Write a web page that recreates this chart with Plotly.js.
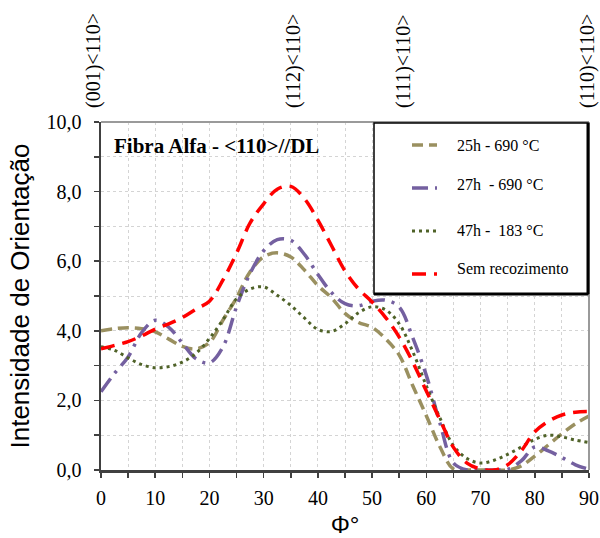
<!DOCTYPE html>
<html>
<head>
<meta charset="utf-8">
<script src="https://cdn.plot.ly/plotly-3.0.1.min.js"></script>
<style>html,body{margin:0;padding:0;background:#fff;}#chart{width:600px;height:538px;}</style>
</head>
<body>
<div id="chart"></div>
<script>
// Φ angle (degrees)
const phi = [0,2.5,5,7.5,10,12.5,15,17.5,20,22.5,25,27.5,30,32.5,35,37.5,40,42.5,45,47.5,50,52.5,55,57.5,60,62.5,65,67.5,70,72.5,75,77.5,80,82.5,85,87.5,90];

const seriesNames = ["25h - 690 °C", "27h  - 690 °C", "47h -  183 °C", "Sem recozimento"];

const s25h690 = [4.00,4.06,4.09,4.06,3.97,3.76,3.55,3.48,3.66,4.31,4.95,5.70,6.13,6.24,6.12,5.75,5.30,4.95,4.50,4.24,4.10,3.77,3.30,2.42,1.56,0.67,0.03,0,0,0,0,0.12,0.40,0.72,1.04,1.33,1.55];
const s27h690 = [2.25,2.78,3.25,3.95,4.30,4.10,3.65,3.20,3.08,3.54,4.69,5.65,6.30,6.62,6.60,6.20,5.62,5.10,4.78,4.72,4.85,4.88,4.68,3.80,2.72,1.35,0.20,0,0,0,0.02,0.26,0.66,0.55,0.36,0.15,0.02];
const s47h183 = [3.54,3.44,3.22,3.03,2.94,2.97,3.10,3.35,3.78,4.32,4.92,5.20,5.26,5.02,4.73,4.37,4.04,3.98,4.20,4.52,4.69,4.60,4.20,3.40,2.42,1.50,0.70,0.33,0.20,0.28,0.45,0.66,0.88,1.00,0.95,0.86,0.79];
const semRecoz = [3.48,3.58,3.69,3.85,4.05,4.20,4.38,4.62,4.85,5.46,6.23,7.10,7.65,8.07,8.15,7.80,7.18,6.45,5.72,5.20,4.83,4.38,3.82,3.10,2.27,1.45,0.65,0.20,0.03,0,0.15,0.55,1.10,1.40,1.58,1.66,1.68];

const orientLabels = ["(001)<110>", "(112)<110>", "(111)<110>", "(110)<110>"];
const chartTitle = "Fibra Alfa - <110>//DL";

const colors = ["#9A9060", "#7460A0", "#4F6228", "#FF0000"];
const dashes = ["11px,6px", "16px,7px,3px,7px", "3px,4px", "14px,8px"];
const widths = [3.5, 3.5, 3, 3.5];
const values = [s25h690, s27h690, s47h183, semRecoz];

const traces = values.map((v, i) => ({
  x: phi, y: v, type: "scatter", mode: "lines", name: seriesNames[i],
  line: {color: colors[i], width: widths[i], dash: dashes[i], shape: "spline", smoothing: 1},
  showlegend: false, hoverinfo: "x+y"
}));

// pixel helpers for overlay (plot area: x 101..589, y 122..470)
const L = 101, R = 589, T = 122, B = 470;
const px = p => (p - L) / (R - L);
const py = p => (B - p) / (B - T);

const shapes = [
  // top and right frame
  {type: "line", xref: "paper", yref: "paper", x0: 0, x1: 1, y0: 1, y1: 1, line: {color: "#9a9a9a", width: 2}},
  {type: "line", xref: "paper", yref: "paper", x0: 1, x1: 1, y0: 0, y1: 1, line: {color: "#9a9a9a", width: 2}},
  // legend box
  {type: "rect", xref: "paper", yref: "paper", x0: px(374), x1: px(588), y0: py(294), y1: py(123), fillcolor: "#ffffff", line: {color: "#000000", width: 1.5}},
  {type: "line", xref: "paper", yref: "paper", x0: px(588), x1: px(588), y0: py(294), y1: py(123), line: {color: "#000000", width: 3}},
  {type: "line", xref: "paper", yref: "paper", x0: px(374), x1: px(588), y0: py(294), y1: py(294), line: {color: "#000000", width: 3}}
];
const sampleY = [145, 188, 231, 274];
const textY = [145, 184, 230, 268];
sampleY.forEach((yy, i) => {
  shapes.push({type: "line", xref: "paper", yref: "paper", x0: px(412), x1: px(437), y0: py(yy), y1: py(yy),
    line: {color: colors[i], width: widths[i], dash: dashes[i]}});
});

const annotations = [];
textY.forEach((yy, i) => {
  annotations.push({xref: "paper", yref: "paper", x: px(455), y: py(yy), xanchor: "left", yanchor: "middle",
    text: seriesNames[i], showarrow: false, font: {family: "Liberation Serif", size: 16, color: "#000"}});
});
annotations.push({xref: "paper", yref: "paper", x: px(112), y: py(146), xanchor: "left", yanchor: "middle",
  text: "<b>" + chartTitle.replace(/</g, "&lt;").replace(/>/g, "&gt;") + "</b>", showarrow: false,
  font: {family: "Liberation Serif", size: 21, color: "#000"}});
const labelX = [94, 294, 404, 588];
orientLabels.forEach((t, i) => {
  annotations.push({xref: "paper", yref: "paper", x: px(labelX[i]), y: py(61), xanchor: "center", yanchor: "middle",
    text: t.replace(/</g, "&lt;").replace(/>/g, "&gt;"), textangle: -90, showarrow: false,
    font: {family: "Liberation Serif", size: 20, color: "#000"}});
});

const layout = {
  width: 600, height: 538,
  margin: {l: L, r: 600 - R, t: T, b: 538 - B, pad: 0},
  paper_bgcolor: "#fff", plot_bgcolor: "#fff",
  separators: ",.",
  showlegend: false,
  xaxis: {
    range: [0, 90], dtick: 10, tick0: 0, ticks: "outside", ticklen: 5, tickwidth: 1.5, tickcolor: "#404040",
    showline: true, linecolor: "#404040", linewidth: 2.5, zeroline: false,
    showgrid: true, gridcolor: "#d4d4d4", griddash: "dot", gridwidth: 1,
    minor: {dtick: 5, ticks: "outside", ticklen: 5, tickcolor: "#404040", showgrid: true, gridcolor: "#d4d4d4", griddash: "dot"},
    tickfont: {family: "Liberation Serif", size: 20, color: "#000"}, ticklabelstandoff: 3,
    title: {text: "Φ°", font: {family: "Liberation Sans", size: 24, color: "#000"}, standoff: 9}
  },
  yaxis: {
    range: [0, 10], dtick: 2, tick0: 0, tickformat: ".1f", ticks: "outside", ticklen: 5, tickwidth: 1.5, tickcolor: "#404040",
    showline: true, linecolor: "#404040", linewidth: 2.5, zeroline: false,
    showgrid: true, gridcolor: "#d4d4d4", griddash: "dot", gridwidth: 1,
    minor: {dtick: 1, ticks: "outside", ticklen: 5, tickcolor: "#404040", showgrid: true, gridcolor: "#d4d4d4", griddash: "dot"},
    tickfont: {family: "Liberation Serif", size: 20, color: "#000"}, ticklabelstandoff: 8,
    title: {text: "Intensidade de Orientação", font: {family: "Liberation Sans", size: 26, color: "#000"}, standoff: 10}
  },
  shapes: shapes,
  annotations: annotations
};

Plotly.newPlot("chart", traces, layout, {displayModeBar: false, staticPlot: true});
</script>
</body>
</html>
